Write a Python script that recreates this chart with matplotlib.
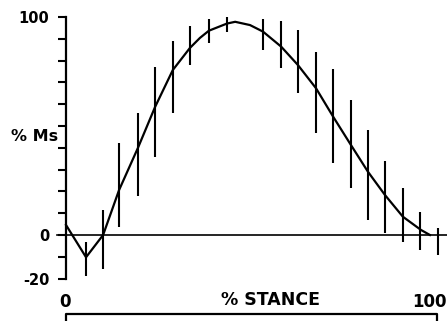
import matplotlib
matplotlib.use("Agg")
import matplotlib.pyplot as plt

# Curve: % stance vs % Ms
curve_x = [0, 5.4, 10, 14.3, 19.4, 24.0, 28.8, 33.4, 36.1, 38.5, 43.4, 45.6,
           49.6, 53.1, 58.0, 62.5, 67.4, 72.0, 76.8, 81.4, 86.0, 90.8, 95.7, 98.1]
curve_y = [4.6, -10.2, 0, 20.6, 40, 58.7, 75.7, 85.8, 90.4, 93.7, 97, 97.8,
           96.3, 93.3, 86.4, 78, 67.3, 54.3, 41.3, 29, 18.3, 8.4, 2.3, 0]

# Error bars: position, upper end, lower end
bar_x = [5.4, 10, 14.3, 19.4, 24.0, 28.8, 33.4, 38.5, 43.4, 53.1, 58, 62.5,
         67.4, 72.0, 76.8, 81.4, 86, 90.8, 95.4, 100.3]
bar_hi = [-3, 11.5, 42, 56, 77, 89, 96, 99, 100, 99, 98, 94,
          84, 76, 62, 48, 34, 21.5, 10.5, 3]
bar_lo = [-19, -15.6, 3.7, 18, 36, 56, 78, 88, 93, 85, 76.6, 65,
          47, 33, 21.5, 7, 1, -3, -7, -9]

y_ticks = list(range(-20, 101, 10))
y_labels = {100: "100", 0: "0", -20: "-20"}

font = {"family": "DejaVu Sans", "weight": "bold"}

fig = plt.figure(figsize=(4.47, 3.21), dpi=100)
ax = fig.add_axes([0, 0, 1, 1])
ax.set_xlim(-17.79, 102.7)
ax.set_ylim(-39.45, 107.8)

# y axis drawn at x = 0
for side in ["top", "right", "bottom"]:
    ax.spines[side].set_visible(False)
ax.spines["left"].set_position(("data", 0))
ax.spines["left"].set_bounds(-20, 100)
ax.spines["left"].set_linewidth(1.6)
ax.set_yticks(y_ticks)
ax.set_yticklabels([y_labels.get(t, "") for t in y_ticks], **font, fontsize=10.5)
ax.tick_params(axis="y", direction="out", length=6, width=1.5, pad=6)
ax.set_xticks([])

# zero line
ax.plot([-2.4, 102.7], [0, 0], color="black", lw=1.2)

# error bars and mean curve
ax.vlines(bar_x, bar_lo, bar_hi, color="black", lw=1.5)
ax.plot(curve_x, curve_y, color="black", lw=1.6)

ax.text(-2.2, 45, "% Ms", ha="right", va="center", fontsize=11.5, **font)
ax.text(-0.3, -30.7, "0", ha="center", va="center", fontsize=12, **font)
ax.text(55, -29.8, "% STANCE", ha="center", va="center", fontsize=12.5, **font)
ax.text(102.5, -30.7, "100", ha="right", va="center", fontsize=12, **font)

# bracket under the x labels
ax.plot([0, 0, 100, 100], [-40, -36.2, -36.2, -40], color="black", lw=1.6,
        clip_on=False)

fig.savefig("out.png", dpi=100)
